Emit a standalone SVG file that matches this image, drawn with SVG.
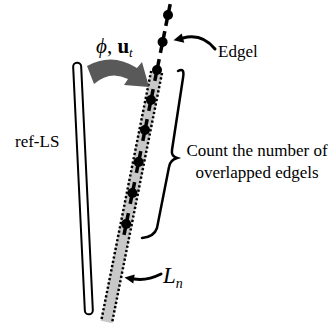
<svg xmlns="http://www.w3.org/2000/svg" width="336" height="331" viewBox="0 0 336 331">
<defs>
<style>
.t{font-family:"Liberation Serif","Times New Roman",serif;fill:#000}
.ed line{stroke:#000;stroke-width:3.5}
.ed circle{fill:#000}
.conn{fill:none;stroke:#000;stroke-width:3;stroke-linecap:round}
.head{fill:#000}
.dot{stroke:#000;stroke-width:2.5;stroke-dasharray:2.2,2.2}
</style>
</defs>
<rect width="336" height="331" fill="#fff"/>

<g id="refLS">
<rect x="-4" y="-126" width="8" height="252" rx="4" fill="#fff" stroke="#000" stroke-width="2" transform="translate(83,188.5) rotate(-2.74)"/>
<text class="t" x="15" y="147" font-size="17">ref-LS</text>
</g>

<g id="Ln">
<g transform="translate(131.6,197) rotate(11.31)">
<rect x="-6" y="-127.5" width="12" height="255" fill="#c8c8c8"/>
<line class="dot" x1="-5.5" y1="-127.5" x2="-5.5" y2="127.5"/>
<line class="dot" x1="5.5" y1="-127.5" x2="5.5" y2="127.5"/>
</g>
<text class="t" x="163" y="283" font-size="23" font-style="italic">L<tspan font-size="14" dy="5">n</tspan></text>
</g>

<g id="edgels" class="ed">
<g><line x1="170.2" y1="4.2" x2="165.8" y2="25.8"/><circle cx="168" cy="15" r="5"/></g>
<g><line x1="164.8" y1="31.2" x2="160.4" y2="52.8"/><circle cx="162.6" cy="42" r="5"/></g>
<g><line x1="159.2" y1="59.2" x2="154.8" y2="80.8"/><circle cx="157" cy="70" r="5"/></g>
<g><line x1="153.2" y1="89.2" x2="148.8" y2="110.8"/><circle cx="151" cy="100" r="5"/></g>
<g><line x1="147.2" y1="119.2" x2="142.8" y2="140.8"/><circle cx="145" cy="130" r="5"/></g>
<g><line x1="140.8" y1="151.2" x2="136.4" y2="172.8"/><circle cx="138.6" cy="162" r="5"/></g>
<g><line x1="134.6" y1="182.2" x2="130.2" y2="203.8"/><circle cx="132.4" cy="193" r="5"/></g>
<g><line x1="128.4" y1="213.2" x2="124" y2="234.8"/><circle cx="126.2" cy="224" r="5"/></g>
</g>

<g id="rotation">
<path d="M87,66 Q112,52 137,68 L142,62 L149,87 L124,85 L128,79 Q110,70 94,84 Z" fill="#595959"/>
<text class="t" x="96" y="53" font-size="21"><tspan font-style="italic">ϕ</tspan>, <tspan font-weight="bold">u</tspan><tspan font-style="italic" font-size="13" dy="4">t</tspan></text>
</g>

<g id="edgelLabel">
<text class="t" x="218" y="57" font-size="17">Edgel</text>
</g>

<g id="countLabel">
<path d="M178,71 Q185,67 183,78 L172,150 Q171,156 177,158 Q170,160 169,167 L157,228 Q154,237 142,238" fill="none" stroke="#000" stroke-width="2.5" stroke-linecap="round"/>
<text class="t" x="257" y="156" font-size="17" text-anchor="middle">Count the number of</text>
<text class="t" x="257" y="178" font-size="17" text-anchor="middle">overlapped edgels</text>
</g>

<g id="connectors">
<path class="conn" d="M215,49 Q202,33 183,38"/>
<polygon class="head" points="173.5,40.3 184.3,42.8 181.7,33.4"/>
<path class="conn" d="M161,274 Q147,281 134,279"/>
<polygon class="head" points="124.5,277.6 134.7,274.6 133.3,283.4"/>
</g>
</svg>
